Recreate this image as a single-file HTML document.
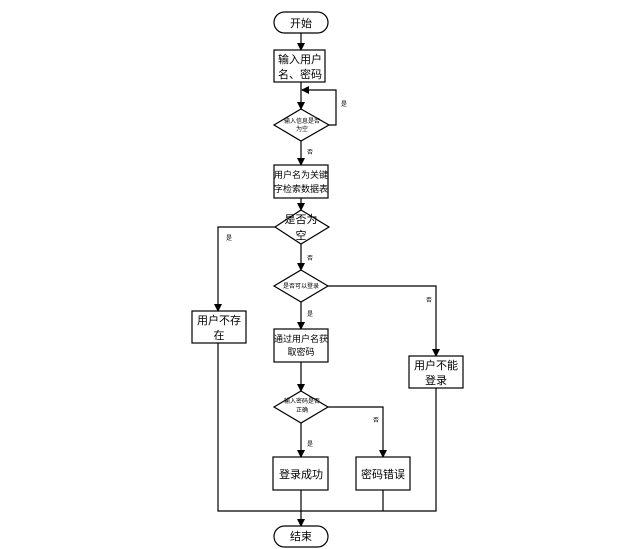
<!DOCTYPE html>
<html><head><meta charset="utf-8"><style>
html,body{margin:0;padding:0;background:#fff;}
svg{display:block;}
text{font-family:"Liberation Sans","Noto Sans CJK SC",sans-serif;fill:#000;}
</style></head><body>
<svg width="640" height="549" viewBox="0 0 640 549" xmlns="http://www.w3.org/2000/svg">
<defs><marker id="a" markerWidth="8" markerHeight="8" refX="7" refY="4" orient="auto" markerUnits="userSpaceOnUse"><path d="M0,0 L8,4 L0,8 z" fill="#000"/></marker></defs>
<g stroke="#000" stroke-width="1.2" fill="none">
<rect x="274" y="12" width="54" height="21" rx="10.5" fill="#fff"/>
<line x1="301" y1="33" x2="301" y2="50" marker-end="url(#a)"/>
<rect x="274" y="50" width="51" height="32" fill="#fff"/>
<line x1="301" y1="82" x2="301" y2="109" marker-end="url(#a)"/>
<polygon points="301,109 329,125 301,141 274,125" fill="#fff"/>
<polyline points="329,125 336,125 336,90 302,90" marker-end="url(#a)"/>
<line x1="301" y1="141" x2="301" y2="165" marker-end="url(#a)"/>
<rect x="274" y="165" width="54" height="33" fill="#fff"/>
<line x1="301" y1="198" x2="301" y2="210" marker-end="url(#a)"/>
<polygon points="301,210 329,227 301,244 275,227" fill="#fff"/>
<polyline points="275,227 218,227 218,311" marker-end="url(#a)"/>
<rect x="192" y="311" width="54" height="32" fill="#fff"/>
<line x1="301" y1="244" x2="301" y2="270" marker-end="url(#a)"/>
<polygon points="301,270 328,286 301,302 274,286" fill="#fff"/>
<polyline points="328,286 436,286 436,356" marker-end="url(#a)"/>
<rect x="409" y="356" width="54" height="32" fill="#fff"/>
<line x1="301" y1="302" x2="301" y2="329" marker-end="url(#a)"/>
<rect x="274" y="329" width="54" height="33" fill="#fff"/>
<line x1="301" y1="362" x2="301" y2="391" marker-end="url(#a)"/>
<polygon points="301,391 328,407 301,423 274,407" fill="#fff"/>
<polyline points="328,407 383,407 383,457" marker-end="url(#a)"/>
<rect x="356" y="457" width="54" height="33" fill="#fff"/>
<line x1="301" y1="423" x2="301" y2="457" marker-end="url(#a)"/>
<rect x="273" y="457" width="55" height="33" fill="#fff"/>
<polyline points="218,343 218,511 436,511 436,388"/>
<line x1="383" y1="490" x2="383" y2="511"/>
<line x1="301" y1="490" x2="301" y2="526" marker-end="url(#a)"/>
<rect x="274" y="526" width="54" height="21" rx="10.5" fill="#fff"/>
</g>
<g font-size="11" text-anchor="middle">
<text x="301" y="27">开始</text>
<text x="300" y="63">输入用户</text>
<text x="300" y="78">名、密码</text>
<text x="301" y="178" font-size="9">用户名为关键</text>
<text x="301" y="192" font-size="9">字检索数据表</text>
<text x="301" y="223">是否为</text>
<text x="301" y="239">空</text>
<text x="219" y="324">用户不存</text>
<text x="219" y="339">在</text>
<text x="436" y="369">用户不能</text>
<text x="436" y="384">登录</text>
<text x="301" y="342" font-size="9">通过用户名获</text>
<text x="301" y="355" font-size="9">取密码</text>
<text x="301" y="478">登录成功</text>
<text x="383" y="478">密码错误</text>
<text x="301" y="540">结束</text>
</g>
<g font-size="6" text-anchor="middle">
<text x="302" y="123">输入信息是否</text>
<text x="302" y="131">为空</text>
<text x="301" y="288">是否可以登录</text>
<text x="302" y="403">输入密码是否</text>
<text x="302" y="412">正确</text>
<text x="344" y="106">是</text>
<text x="310" y="154">否</text>
<text x="229" y="240">是</text>
<text x="310" y="260">否</text>
<text x="429" y="302">否</text>
<text x="310" y="316">是</text>
<text x="376" y="422">否</text>
<text x="310" y="446">是</text>
</g>
</svg>
</body></html>
